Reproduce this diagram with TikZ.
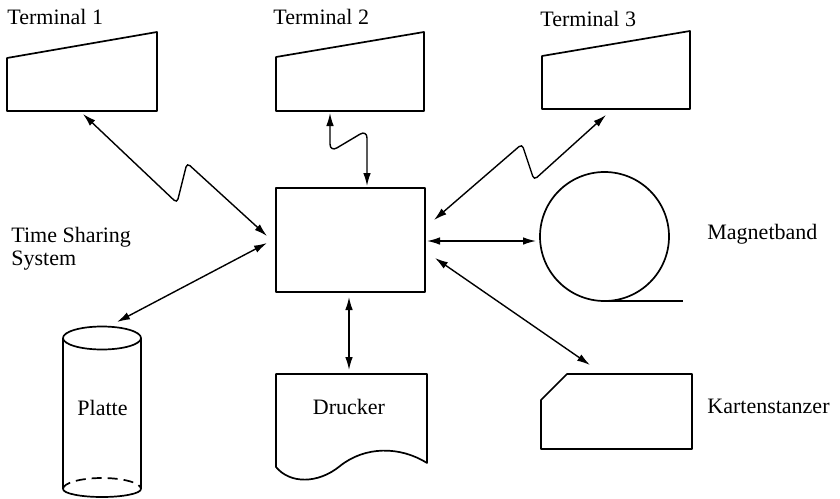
\documentclass[tikz,border=0pt]{standalone}
\usepackage{fontspec}
\setmainfont{Liberation Serif}
\usetikzlibrary{arrows.meta}
\begin{document}
\begin{tikzpicture}[x=0.5pt,y=-0.5pt,
  shape line/.style={line width=0.85pt, line join=round},
  link/.style={line width=0.7pt, {Latex[length=6.5pt,width=3.8pt]}-{Latex[length=6.5pt,width=3.8pt]}},
  zig/.style={link, rounded corners=2pt},
  label/.style={anchor=base west, inner sep=0pt, font=\fontsize{11}{13}\selectfont},
  inlabel/.style={anchor=base, inner sep=0pt, font=\fontsize{11}{13}\selectfont}]

% page frame
\fill[white] (0,0) rectangle (840,498);
\useasboundingbox (0,0) rectangle (840,498);

% terminals (sloped-top screens)
\draw[shape line] (7,111) -- (7,58) -- (157,32) -- (157,111) -- cycle;
\draw[shape line] (276,111) -- (276,57) -- (424,32) -- (424,111) -- cycle;
\draw[shape line] (542,109) -- (542,56) -- (690,31) -- (690,109) -- cycle;
\node[label] (t1) at (7,25) {Terminal 1};
\node[label] (t2) at (273,25) {Terminal 2};
\node[label] (t3) at (540,26) {Terminal 3};

% central computer
\node[shape line, draw, rectangle, inner sep=0pt, outer sep=0pt,
      minimum width=74.5pt, minimum height=52pt] (host) at (350.5,240) {};
\node[label] (tss1) at (11,242) {Time Sharing};
\node[label] (tss2) at (11,265) {System};

% magnetic tape
\draw[shape line] (604.5,236.5) circle[radius=32.25pt];
\draw[shape line] (604,301) -- (683,301);
\node[label] (tape) at (707,239) {Magnetband};

% disk
\draw[shape line] (63,338) arc[start angle=180, end angle=0, x radius=19.5pt, y radius=5.75pt]
                  arc[start angle=0, end angle=-180, x radius=19.5pt, y radius=5.75pt];
\draw[shape line] (63,338) -- (63,489);
\draw[shape line] (141,338) -- (141,489);
\draw[shape line, dash pattern=on 5pt off 3pt] (63,489) arc[start angle=180, end angle=0, x radius=19.5pt, y radius=5.5pt];
\draw[shape line] (63,489) arc[start angle=180, end angle=360, x radius=19.5pt, y radius=4pt];
\node[inlabel] (disk) at (102.5,415) {Platte};

% printer with torn-paper lower edge
\draw[shape line] (276,467) -- (276,374) -- (427,374) -- (427,463)
   .. controls (400,446) and (365,446) .. (340,466)
   .. controls (318,484) and (290,484) .. (276,467) -- cycle;
\node[inlabel] (printer) at (349,414) {Drucker};

% card punch
\draw[shape line] (541,449) -- (541,400) -- (567,374) -- (692,374) -- (692,449) -- cycle;
\node[label] (punch) at (707,413) {Kartenstanzer};

% connector ends
\coordinate (t1a) at (83,114);
\coordinate (t1b) at (267,236);
\coordinate (t2a) at (330,113);
\coordinate (t2b) at (367,186);
\coordinate (t3a) at (606,115);
\coordinate (t3b) at (434,220);
\coordinate (tapea) at (427,241);
\coordinate (tapeb) at (536,241);
\coordinate (diska) at (117,322);
\coordinate (diskb) at (267,243);
\coordinate (printa) at (349,297);
\coordinate (printb) at (349,370);
\coordinate (puncha) at (435,258);
\coordinate (punchb) at (590,365);

% connectors
\draw[zig] (t1a) -- (177,203) -- (187,163) -- (t1b);
\draw[link, rounded corners=4pt] (t2a) -- (330,152) -- (367,130) -- (t2b);
\draw[zig] (t3a) -- (534,180) -- (522,144) -- (t3b);
\draw[link] (tapea) -- (tapeb);
\draw[link] (diska) -- (diskb);
\draw[link] (printa) -- (printb);
\draw[link] (puncha) -- (punchb);
\end{tikzpicture}
\end{document}
